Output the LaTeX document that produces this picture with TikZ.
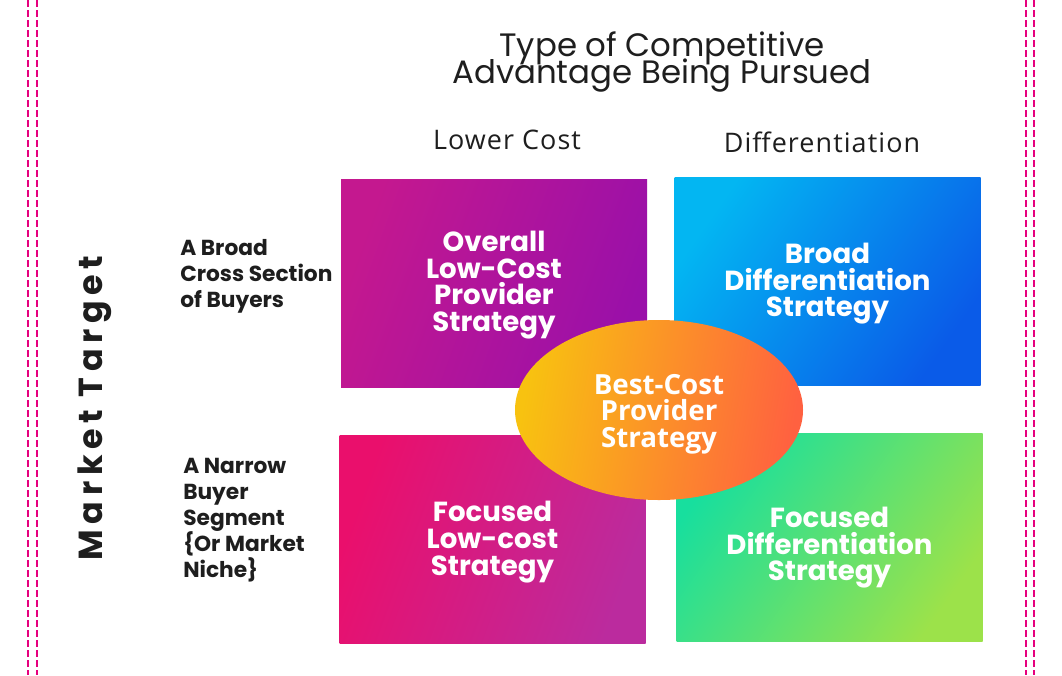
\documentclass[tikz,border=0pt]{standalone}
\usepackage{fontspec}
\setmainfont{Poppins}
\newfontfamily\opensans{Open Sans}
\newfontfamily\hdfont{Open Sans}
\usetikzlibrary{shapes.geometric}
\definecolor{dpink}{HTML}{E6007E}
\definecolor{tlA}{HTML}{C4188F}
\definecolor{tlB}{HTML}{9A10A9}
\definecolor{trA}{HTML}{03B6F2}
\definecolor{trB}{HTML}{0A5BE8}
\definecolor{blA}{HTML}{EA0F6C}
\definecolor{blB}{HTML}{BB2B9E}
\definecolor{brA}{HTML}{17DF9E}
\definecolor{brB}{HTML}{9CE24A}
\definecolor{elA}{HTML}{F8C210}
\definecolor{elB}{HTML}{FF6140}
\definecolor{ink}{HTML}{1E1E1E}
\newcommand\tightlines{\lineskiplimit=-30pt\lineskip=0pt}
\tikzset{
  border/.style={dpink, line width=1.6pt, dash pattern=on 5pt off 2.5pt},
  quad/.style={rectangle, inner sep=0pt, minimum width=229.5pt, minimum height=156pt},
  quadtext/.style={inner sep=0pt, text=white, align=center,
    font=\bfseries\fontsize{20.7}{20}\selectfont\tightlines},
  best/.style={ellipse, inner sep=0pt, minimum width=216pt, minimum height=135pt},
  besttext/.style={inner sep=0pt, text=white, align=center,
    font=\opensans\bfseries\fontsize{20.8}{20}\selectfont\tightlines},
  rowlabel/.style={anchor=west, align=left, text=ink, inner sep=0pt,
    font=\bfseries\fontsize{16.3}{19.5}\selectfont\tightlines},
  colhead/.style={text=ink, font=\hdfont\addfontfeature{LetterSpace=4}\fontsize{20.2}{21}\selectfont},
}
\begin{document}
\begin{tikzpicture}[x=0.75pt,y=-0.75pt]
\useasboundingbox (0,0) rectangle (1062,675);
\fill[white] (0,0) rectangle (1062,675);
% page borders
\draw[border] (28,0) -- (28,675);
\draw[border] (37,0) -- (37,675);
\draw[border] (1026,0) -- (1026,675);
\draw[border] (1034,0) -- (1034,675);
% title
\node[text=ink, align=center, font=\fontsize{24.3}{20}\selectfont\tightlines] (title) at (662,62)
  {Type of Competitive\\Advantage Being Pursued};
\node[colhead] (hcost) at (507,140) {Lower Cost};
\node[colhead] (hdiff) at (822,142) {Differentiation};
% row labels
\node[rowlabel] (rbroad) at (180,276) {A Broad\\Cross Section\\of Buyers};
\node[rowlabel] (rnarrow) at (183,520) {A Narrow\\Buyer\\Segment\\\{Or Market\\Niche\}};
\node[rotate=90, text=ink, font=\bfseries\addfontfeature{LetterSpace=17}\fontsize{25}{28}\selectfont] (mt) at (95,408) {Market Target};
% quadrants
\node[quad, left color=tlA, right color=tlB, shading angle=70] (tl) at (494,283) {};
\node[quad, left color=trA, right color=trB, shading angle=55] (tr) at (827.5,281) {};
\node[quad, left color=blA, right color=blB, shading angle=70] (bl) at (492.5,539.5) {};
\node[quad, left color=brA, right color=brB, shading angle=55] (br) at (829.5,537) {};
\node[quadtext] (tlt) at ([yshift=-1.5]tl.center) {Overall\\Low-Cost\\Provider\\Strategy};
\node[quadtext] (trt) at ([yshift=-2]tr.center) {Broad\\Differentiation\\Strategy};
\node[quadtext] (blt) at ([yshift=-2]bl.center) {Focused\\Low-cost\\Strategy};
\node[quadtext] (brt) at ([yshift=-8]br.center) {Focused\\Differentiation\\Strategy};
% center ellipse
\node[best, left color=elA, right color=elB, shading angle=80] (bc) at (659,410) {};
\node[besttext] (bct) at ([yshift=-3]bc.center) {Best-Cost\\Provider\\Strategy};
\end{tikzpicture}
\end{document}
